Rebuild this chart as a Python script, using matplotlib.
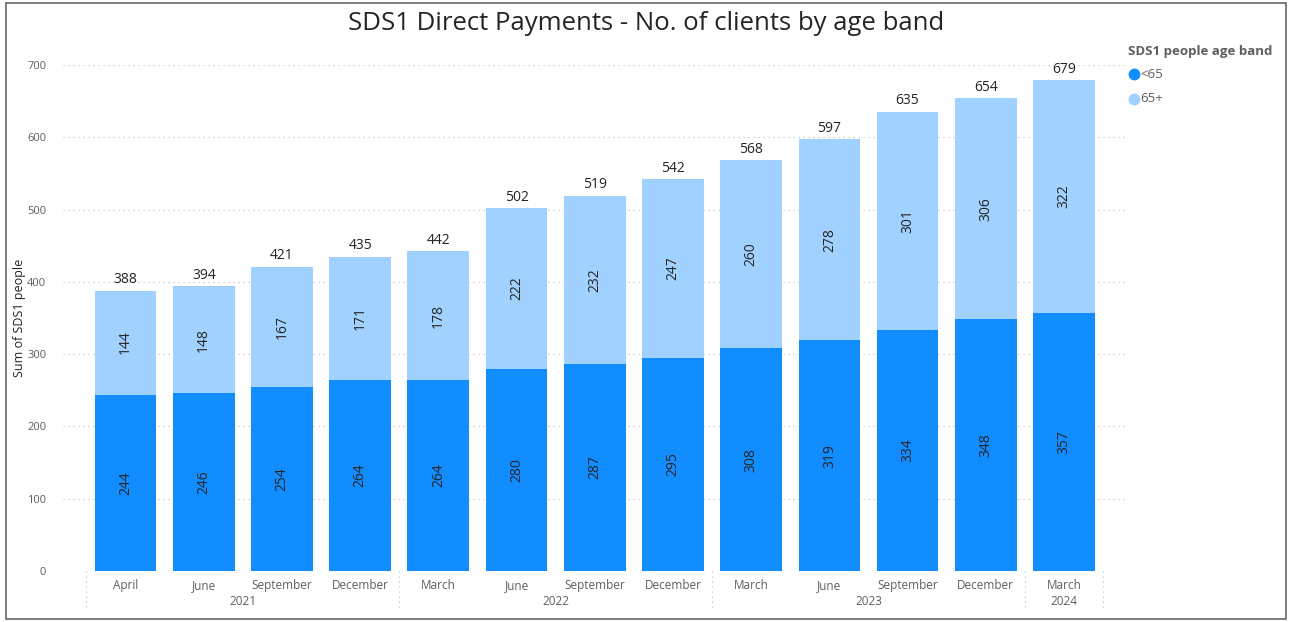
import matplotlib.pyplot as plt
from matplotlib.patches import Rectangle
from matplotlib.lines import Line2D

plt.rcParams['font.family'] = ['Open Sans', 'DejaVu Sans']

months = ['April', 'June', 'September', 'December', 'March', 'June', 'September',
          'December', 'March', 'June', 'September', 'December', 'March']
years = ['2021', '2022', '2023', '2024']
year_spans = [(0, 3), (4, 7), (8, 11), (12, 12)]
under_65 = [244, 246, 254, 264, 264, 280, 287, 295, 308, 319, 334, 348, 357]
over_65 = [144, 148, 167, 171, 178, 222, 232, 247, 260, 278, 301, 306, 322]

dark = '#118DFF'
light = '#A0D1FF'
grey = '#605E5C'

fig = plt.figure(figsize=(12.92, 6.22), dpi=100)
fig.patches.append(Rectangle((0.005, 0.005), 0.99, 0.99, transform=fig.transFigure,
                             fill=False, edgecolor='#666666', linewidth=1.2))
ax = fig.add_axes([63 / 1292, 51 / 622, 1062 / 1292, 506 / 622])

x = list(range(len(months)))
totals = [a + b for a, b in zip(under_65, over_65)]
ax.bar(x, under_65, width=0.79, color=dark, zorder=2)
ax.bar(x, over_65, width=0.79, bottom=under_65, color=light, zorder=2)

for i in x:
    ax.text(i, under_65[i] / 2, str(under_65[i]), rotation=90, ha='center', va='center',
            fontsize=10, color='#252423')
    ax.text(i, under_65[i] + over_65[i] / 2, str(over_65[i]), rotation=90, ha='center',
            va='center', fontsize=10, color='#252423')
    ax.text(i, totals[i] + 5, str(totals[i]), ha='center', va='bottom',
            fontsize=10, color='#252423')

ax.set_xlim(-0.8, 12.78)
ax.set_ylim(0, 700)
ax.set_yticks(range(0, 701, 100))
ax.yaxis.grid(True, linestyle=(0, (1, 3)), color='#C8C6C4', linewidth=0.9, zorder=0)
ax.set_axisbelow(True)
for s in ax.spines.values():
    s.set_visible(False)
ax.tick_params(axis='y', length=0, labelsize=8, labelcolor=grey, pad=12)
ax.tick_params(axis='x', length=0, labelsize=8.5, labelcolor=grey, pad=6)
ax.set_xticks(x)
ax.set_xticklabels(months)
ax.set_ylabel('Sum of SDS1 people', fontsize=9, color='#252423', va='center')
ax.yaxis.set_label_coords(-0.0405, 0.5)

# year row and group separators below the axis
for yr, (a, b) in zip(years, year_spans):
    ax.text((a + b) / 2, -0.061, yr, transform=ax.get_xaxis_transform(),
            ha='center', va='center', fontsize=8.5, color=grey)
for bnd in [-0.5, 3.5, 7.5, 11.5, 12.5]:
    ax.add_line(Line2D([bnd, bnd], [0, -0.08], transform=ax.get_xaxis_transform(),
                       linestyle=(0, (1, 3)), color='#C8C6C4', linewidth=0.9, clip_on=False))

fig.text(0.5, 1 - 24 / 622, 'SDS1 Direct Payments - No. of clients by age band',
         ha='center', va='center', fontsize=18.5, color='#252423')

# legend
fig.text(1128 / 1292, 1 - 52 / 622, 'SDS1 people age band', ha='left', va='center',
         fontsize=9.5, fontweight='bold', color=grey)
for k, (lab, col) in enumerate([('<65', dark), ('65+', light)]):
    yy = 1 - (74 + k * 25) / 622
    fig.add_artist(Line2D([1134 / 1292], [yy], marker='o', markersize=7.5, color=col,
                          linestyle='none', transform=fig.transFigure))
    fig.text(1140 / 1292, yy, lab, ha='left', va='center', fontsize=9.5, color=grey)

fig.savefig('out.png', dpi=100)
